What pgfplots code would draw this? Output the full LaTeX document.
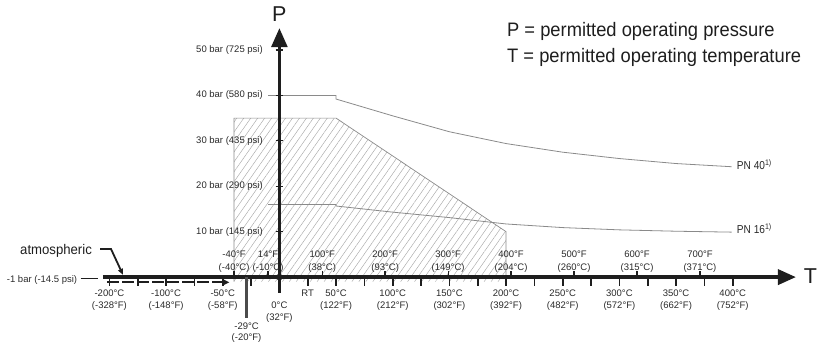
\documentclass[border=0pt]{standalone}
\usepackage{pgfplots}
\pgfplotsset{compat=1.18}
\usetikzlibrary{arrows.meta,patterns.meta}
\usepackage{fontspec}
\setmainfont{Liberation Sans}
\newfontfamily\condfont{Liberation Sans}[FakeStretch=0.94]
\newfontfamily\narrowfont{Liberation Sans}[FakeStretch=0.88]
\definecolor{ax}{HTML}{1E1E1E}
\definecolor{txt}{HTML}{2A2A2A}
\definecolor{pn}{HTML}{8A8A8A}
\definecolor{hatch}{HTML}{A8A8A8}
\newcommand{\lab}{\fontsize{9.5bp}{11bp}\selectfont}
\newcommand{\lowlab}[3]{%
  \node[anchor=base,font=\lab,text=txt,inner sep=0pt] at (#1,-4.21) {#2};%
  \node[anchor=base,font=\lab,text=txt,inner sep=0pt] at (#1,-6.91) {#3};}
\newcommand{\uplab}[3]{%
  \node[anchor=base,font=\lab,text=txt,inner sep=0pt] at (#1,4.32) {#2};%
  \node[anchor=base,font=\lab,text=txt,inner sep=0pt] at (#1,1.56) {#3};}
\newcommand{\plab}[2]{%
  \node[anchor=east,font=\lab,text=txt,inner sep=0pt] at (-14.5,#1) {#2};}
\begin{document}
\begin{tikzpicture}
\useasboundingbox (0,0) rectangle (817bp,347bp);
\begin{axis}[at={(0,0)},anchor=south west,
  x=1.1333bp,y=4.542bp,
  xmin=-246.54,xmax=474.37,ymin=-15.39,ymax=61.01,
  hide axis, clip=false]

% permitted region (hatched)
\addplot[draw=pn, line width=0.7bp, fill=white,
  pattern={Lines[angle=55,distance=5.7bp,line width=0.45bp]}, pattern color=hatch]
  coordinates {(-40,-1) (-40,35) (50,35) (200,10) (200,-1)};

% PN 40 and PN 16 curves
\addplot[pn, line width=0.8bp] coordinates {
  (-10,40) (50,40) (50,39.2) (100,35.5) (150,32.0) (200,29.4)
  (250,27.5) (300,26.1) (350,25.0) (399,24.3)};
\addplot[pn, line width=0.8bp] coordinates {
  (-10,16.0) (50,16.0) (50,15.65) (100,14.3) (150,13.1) (200,11.7)
  (250,10.9) (300,10.4) (350,10.1) (399,9.9)};

% atmospheric dashed line (-1 bar)
\draw[ax, line width=2.2bp, dash pattern=on 12bp off 3bp,
  -{Triangle[length=7bp,width=6bp]}] (-152,-1.15) -- (-44,-1.15);

% T axis
\draw[ax, line width=3.5bp, -{Triangle[length=18bp,width=15bp]}] (-155.8,0) -- (455.8,0);
% P axis
\draw[ax, line width=3.8bp, -{Triangle[length=19bp,width=15.5bp]}] (0,-3.5) -- (0,54.84);
\fill[ax] (0,0) circle[radius=3.3bp];

% ticks below axis (Celsius)
\pgfplotsinvokeforeach{-150,-125,-100,-75,-50,-25,25,50,75,100,125,150,175,200,225,250,275,300,325,350,375,400}{
  \draw[ax, line width=1.6bp] (#1,0) -- (#1,-2.05);
}
% ticks above axis (Fahrenheit)
\pgfplotsinvokeforeach{-40,-10,37.8,93.3,148.9,204.4,260,315.6,371.1}{
  \draw[ax, line width=1.3bp] (#1,0) -- (#1,1.3);
}
% P ticks
\pgfplotsinvokeforeach{10,20,30,40,50}{
  \draw[ax, line width=1.3bp] (-3.3,#1) -- (3.3,#1);
}
% -29 C line
\draw[ax!80, line width=2.6bp] (-29,0) -- (-29,-9.1);

% P labels
\plab{50}{50 bar (725 psi)}
\plab{40}{40 bar (580 psi)}
\plab{30}{30 bar (435 psi)}
\plab{20}{20 bar (290 psi)}
\plab{10}{10 bar (145 psi)}
\node[anchor=east,font=\lab,text=txt,inner sep=0pt] at (-178.3,-0.64) {-1 bar (-14.5 psi)};
\draw[ax, line width=1.4bp] (-175.4,-0.3) -- (-159.8,-0.3);

% lower labels
\lowlab{-150}{-200°C}{(-328°F)}
\lowlab{-100}{-100°C}{(-148°F)}
\lowlab{-50}{-50°C}{(-58°F)}
\node[anchor=base,font=\lab,text=txt,inner sep=0pt] at (0,-6.91) {0°C};
\node[anchor=base,font=\lab,text=txt,inner sep=0pt] at (0,-9.45) {(32°F)};
\node[anchor=base,font=\lab,text=txt,inner sep=0pt] at (-29,-11.43) {-29°C};
\node[anchor=base,font=\lab,text=txt,inner sep=0pt] at (-29,-13.94) {(-20°F)};
\node[anchor=base,font=\lab,text=txt,inner sep=0pt] at (25,-4.21) {RT};
\lowlab{50}{50°C}{(122°F)}
\lowlab{100}{100°C}{(212°F)}
\lowlab{150}{150°C}{(302°F)}
\lowlab{200}{200°C}{(392°F)}
\lowlab{250}{250°C}{(482°F)}
\lowlab{300}{300°C}{(572°F)}
\lowlab{350}{350°C}{(662°F)}
\lowlab{400}{400°C}{(752°F)}

% upper labels
\uplab{-40}{-40°F}{(-40°C)}
\uplab{-10}{14°F}{(-10°C)}
\uplab{37.8}{100°F}{(38°C)}
\uplab{93.3}{200°F}{(93°C)}
\uplab{148.9}{300°F}{(149°C)}
\uplab{204.4}{400°F}{(204°C)}
\uplab{260}{500°F}{(260°C)}
\uplab{315.6}{600°F}{(315°C)}
\uplab{371.1}{700°F}{(371°C)}

% axis names
\node[font=\fontsize{21.5bp}{24bp}\selectfont,text=ax,inner sep=0pt] at (0,57.93) {P};
\node[font=\fontsize{21.5bp}{24bp}\selectfont,text=ax,inner sep=0pt] at (468.6,0.24) {T};

% curve labels
\node[anchor=base west,font=\narrowfont\fontsize{11.5bp}{13bp}\selectfont,text=txt,inner sep=0pt] at (403.5,23.58) {PN 40\textsuperscript{1)}};
\node[anchor=base west,font=\narrowfont\fontsize{11.5bp}{13bp}\selectfont,text=txt,inner sep=0pt] at (403.5,9.49) {PN 16\textsuperscript{1)}};

% atmospheric
\node[anchor=base west,font=\condfont\fontsize{14bp}{16bp}\selectfont,text=ax,inner sep=0pt] at (-228.9,4.87) {atmospheric};
\draw[ax, line width=1.8bp, -{Triangle[length=6bp,width=5bp]}] (-158.3,6.19) -- (-148.6,6.19) -- (-138.0,0.5);

% legend text
\node[anchor=base west,font=\condfont\fontsize{19.5bp}{22bp}\selectfont,text=ax,inner sep=0pt] at (200.8,53.08) {P = permitted operating pressure};
\node[anchor=base west,font=\condfont\fontsize{19.5bp}{22bp}\selectfont,text=ax,inner sep=0pt] at (200.8,47.14) {T = permitted operating temperature};
\end{axis}
\end{tikzpicture}
\end{document}
